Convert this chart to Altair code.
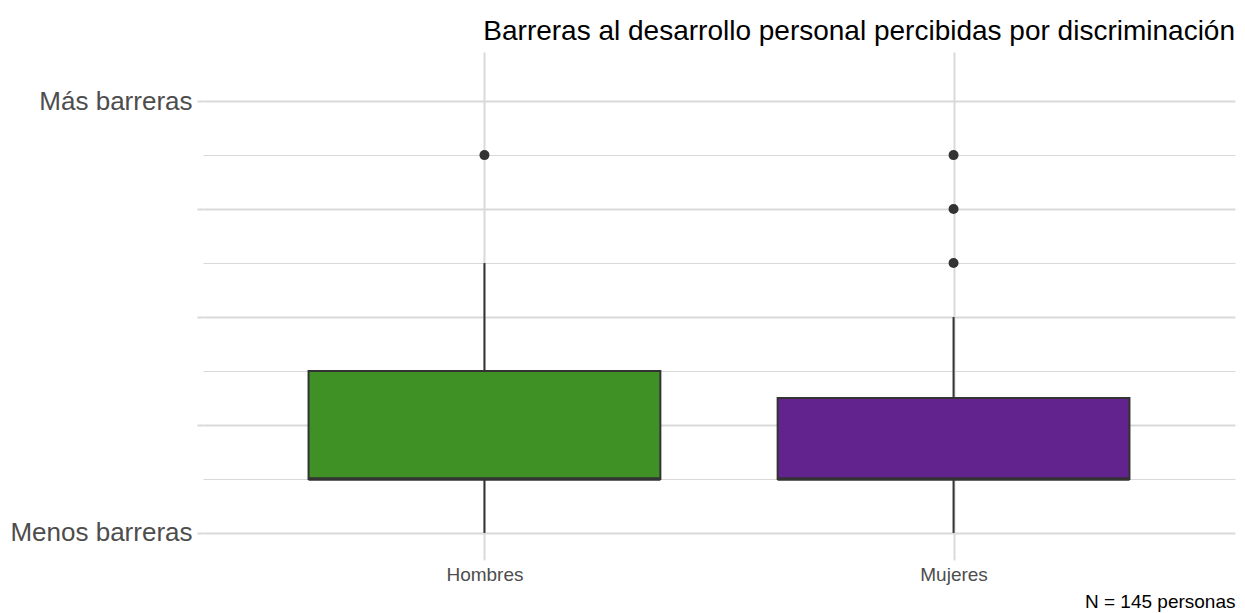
import altair as alt
import pandas as pd

# ---- data ----
grupos = ["Hombres", "Mujeres"]
posiciones = [1, 2]
minimos = [0, 0]
cuartil1 = [1, 1]
medianas = [1, 1]
cuartil3 = [3, 2.5]
maximos = [5, 4]
colores = ["#3F9126", "#63238F"]

atipicos_grupo = ["Hombres", "Mujeres", "Mujeres", "Mujeres"]
atipicos_pos = [1, 2, 2, 2]
atipicos_valor = [7, 5, 6, 7]

y_valores = [0, 1, 2, 3, 4, 5, 6, 7, 8]
y_etiqueta_min = "Menos barreras"
y_etiqueta_max = "Más barreras"
titulo = "Barreras al desarrollo personal percibidas por discriminación"
nota = "N = 145 personas"

FONT = "Liberation Sans"
GRID = "#d9d9d9"
INK = "#333333"

df = pd.DataFrame({
    "grupo": grupos, "pos": posiciones, "ymin": minimos, "q1": cuartil1,
    "mediana": medianas, "q3": cuartil3, "ymax": maximos,
})
df_out = pd.DataFrame({"grupo": atipicos_grupo, "pos": atipicos_pos, "valor": atipicos_valor})

xscale = alt.Scale(domain=[0.4, 2.6], nice=False, zero=False)
yscale = alt.Scale(domain=[-0.39, 8.91], nice=False, zero=False)

x_label_expr = " : ".join(
    [f"datum.value == {p} ? '{g}'" for p, g in zip(posiciones, grupos)]
) + " : ''"
y_label_expr = (
    f"datum.value == {min(y_valores)} ? '{y_etiqueta_min}' : "
    f"datum.value == {max(y_valores)} ? '{y_etiqueta_max}' : ''"
)

ax_x = alt.Axis(
    values=posiciones, labelExpr=x_label_expr, grid=True, gridColor=GRID, gridWidth=2,
    ticks=True, tickColor=GRID, tickWidth=2, tickSize=6, domain=False,
    labelFont=FONT, labelFontSize=19, labelColor="#4d4d4d", labelPadding=5,
    labelFlush=False, labelAngle=0, labelLimit=400,
    title=nota, titleAnchor="end", titleAlign="right", titleFont=FONT,
    titleFontSize=19, titleFontWeight="normal", titleColor="black", titlePadding=8,
)
ax_y = alt.Axis(
    values=y_valores, labelExpr=y_label_expr, grid=True, gridColor=GRID,
    gridWidth={"condition": {"test": "datum.value % 2 === 0", "value": 2}, "value": 1},
    ticks=True,
    tickColor={"condition": {"test": "datum.value % 2 === 0", "value": GRID}, "value": "transparent"},
    tickWidth=2, tickSize=6, domain=False,
    labelFont=FONT, labelFontSize=26, labelColor="#4d4d4d", labelPadding=5,
    labelFlush=False, labelLimit=400, title=None,
)

base = alt.Chart(df).transform_calculate(
    xl="datum.pos - 0.375", xr="datum.pos + 0.375"
)

whisk_low = base.mark_rule(color=INK, strokeWidth=2).encode(
    x=alt.X("pos:Q", scale=xscale, axis=ax_x),
    y=alt.Y("ymin:Q", scale=yscale, axis=ax_y),
    y2="q1:Q",
)
whisk_high = base.mark_rule(color=INK, strokeWidth=2).encode(
    x=alt.X("pos:Q", scale=xscale, axis=ax_x),
    y=alt.Y("q3:Q", scale=yscale, axis=ax_y),
    y2="ymax:Q",
)
boxes = base.mark_rect(stroke=INK, strokeWidth=2).encode(
    x=alt.X("xl:Q", scale=xscale, axis=ax_x),
    x2="xr:Q",
    y=alt.Y("q1:Q", scale=yscale, axis=ax_y),
    y2="q3:Q",
    color=alt.Color("grupo:N", scale=alt.Scale(domain=grupos, range=colores), legend=None),
)
median = base.mark_rule(color=INK, strokeWidth=3.5).encode(
    x=alt.X("xl:Q", scale=xscale, axis=ax_x),
    x2="xr:Q",
    y=alt.Y("mediana:Q", scale=yscale, axis=ax_y),
)
outliers = alt.Chart(df_out).mark_circle(size=100, color=INK, opacity=1).encode(
    x=alt.X("pos:Q", scale=xscale, axis=ax_x),
    y=alt.Y("valor:Q", scale=yscale, axis=ax_y),
)

chart = alt.layer(whisk_low, whisk_high, boxes, median, outliers).properties(
    width=1032,
    height=502,
    autosize=alt.AutoSizeParams(type="none"),
    padding={"left": 195, "top": 44, "right": 2, "bottom": 60},
    title=alt.TitleParams(
        text=titulo, anchor="end", fontSize=28, fontWeight="normal",
        color="black", font=FONT, offset=6,
    ),
    background="white",
).configure_view(stroke=None)

chart.save("out.html", embed_options={"renderer": "svg", "actions": False})
